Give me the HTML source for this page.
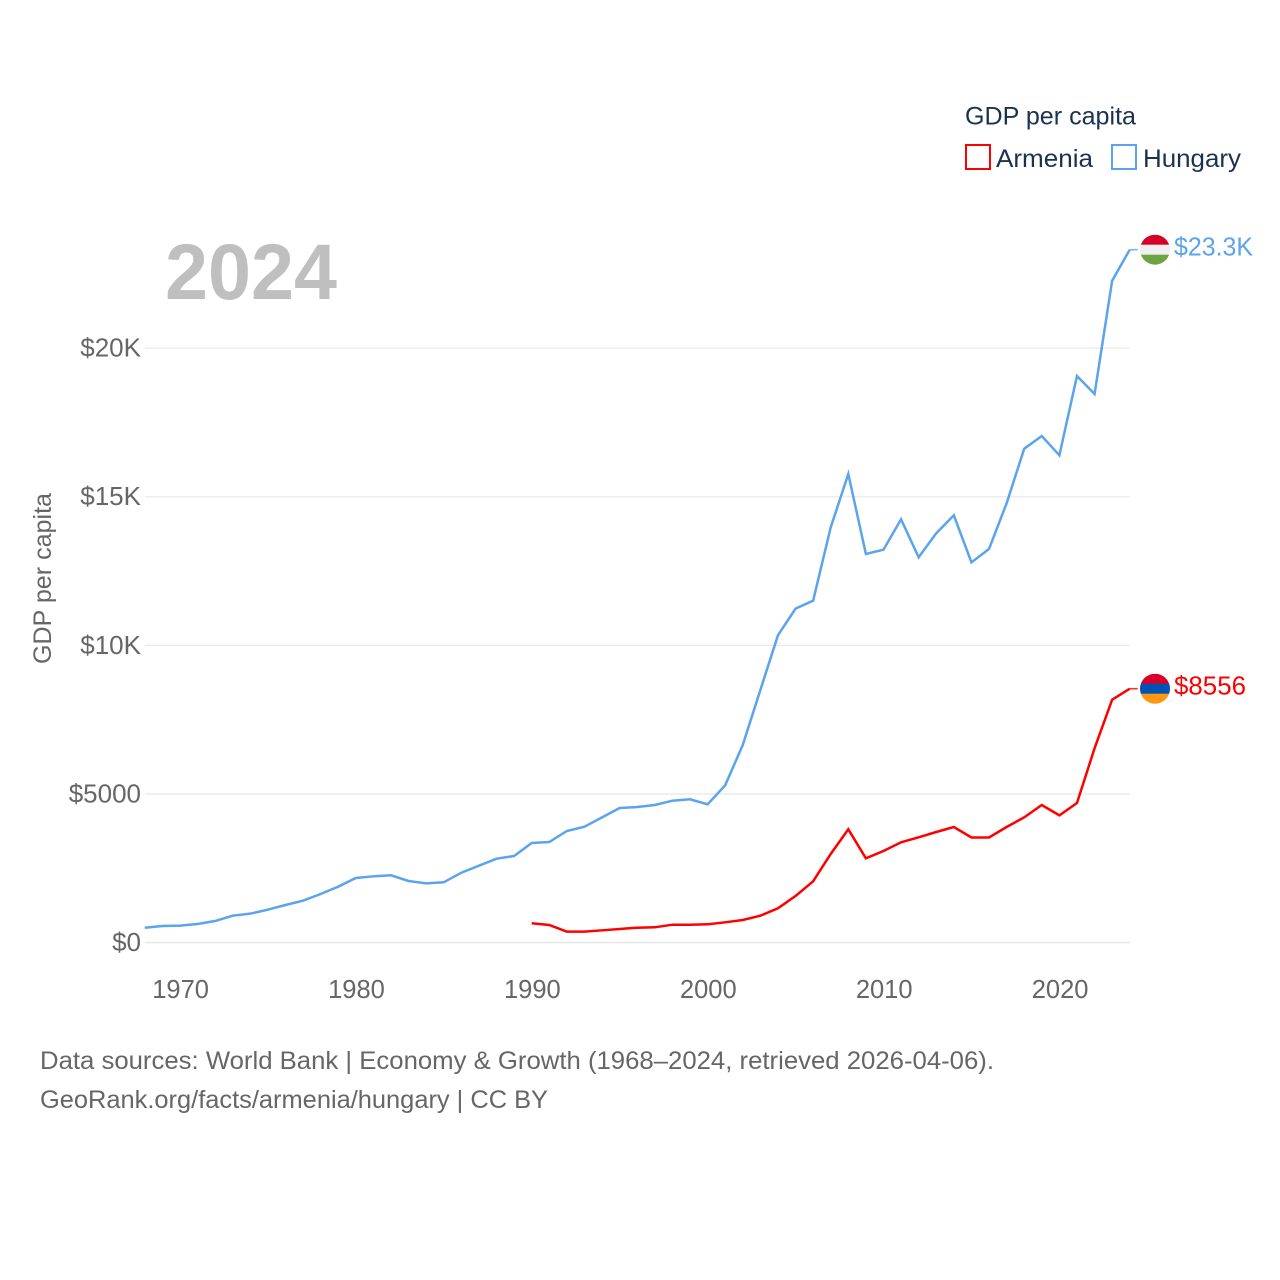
<!DOCTYPE html>
<html lang="en">
<head>
<meta charset="utf-8">
<title>GDP per capita: Armenia and Hungary</title>
<style>
html,body{margin:0;padding:0;background:#fff;}
svg{display:block;}
text{font-family:"Liberation Sans",sans-serif;}
</style>
</head>
<body>
<svg id="chart" xmlns="http://www.w3.org/2000/svg" width="1280" height="1280" viewBox="0 0 1280 1280">
  <rect width="1280" height="1280" fill="#ffffff"/>
  <g id="grid"></g>
  <g id="yticks"></g>
  <g id="xticks"></g>
  <text x="165" y="299" font-size="79" font-weight="700" fill="#bfbfbf" textLength="172" lengthAdjust="spacingAndGlyphs">2024</text>
  <text transform="translate(51,664) rotate(-90)" font-size="25" fill="#666666" textLength="171" lengthAdjust="spacingAndGlyphs">GDP per capita</text>
  <g id="series"></g>
  <g id="flags"></g>
  <g>
    <text x="965" y="124.5" font-size="25" fill="#1a3150" textLength="171" lengthAdjust="spacingAndGlyphs">GDP per capita</text>
    <rect x="966" y="145" width="24" height="24" fill="none" stroke="#ff0000" stroke-width="2"/>
    <text x="996" y="167" font-size="25" fill="#1a3150" textLength="97" lengthAdjust="spacingAndGlyphs">Armenia</text>
    <rect x="1112" y="145" width="24" height="24" fill="none" stroke="#5ba4ec" stroke-width="2"/>
    <text x="1143" y="167" font-size="25" fill="#1a3150" textLength="98" lengthAdjust="spacingAndGlyphs">Hungary</text>
  </g>
  <text x="40" y="1069" font-size="25" fill="#666666" textLength="954" lengthAdjust="spacingAndGlyphs">Data sources: World Bank | Economy &amp; Growth (1968–2024, retrieved 2026-04-06).</text>
  <text x="40" y="1108" font-size="25" fill="#666666" textLength="508" lengthAdjust="spacingAndGlyphs">GeoRank.org/facts/armenia/hungary | CC BY</text>
</svg>
<script>
const NS = 'http://www.w3.org/2000/svg';

const firstYear = 1968;
const lastYear = 2024;
const armeniaFirstYear = 1990;

const hungaryValues = [512,572,583,640,740,919,987,1120,1279,1424,1649,1895,2187,2244,2278,2086,2008,2042,2365,2601,2837,2927,3365,3398,3769,3914,4228,4542,4576,4643,4788,4835,4667,5306,6662,8513,10353,11250,11518,13986,15780,13089,13234,14256,12978,13785,14391,12809,13257,14795,16632,17060,16410,19078,18472,22284,23328];
const armeniaValues = [663,606,381,381,427,471,515,528,616,616,629,696,774,919,1168,1581,2076,2995,3825,2850,3096,3388,3556,3735,3903,3550,3550,3903,4228,4643,4295,4710,6550,8187,8556];

const yTickValues = [0,5000,10000,15000,20000];
const yTickLabels = ['$0','$5000','$10K','$15K','$20K'];
const xTickValues = [1970,1980,1990,2000,2010,2020];
const hungaryEndLabel = '$23.3K';
const armeniaEndLabel = '$8556';

function xScale(year){ return 144.7 + (year - 1968) * 17.59; }
function yScale(value){ return 943 - value * 0.02972; }

function make(tag, attrs, parent, content){
  const el = document.createElementNS(NS, tag);
  for (const k in attrs) el.setAttribute(k, attrs[k]);
  if (content !== undefined) el.textContent = content;
  parent.appendChild(el);
  return el;
}

const grid = document.getElementById('grid');
const yticks = document.getElementById('yticks');
const xticks = document.getElementById('xticks');
const series = document.getElementById('series');
const flags = document.getElementById('flags');

yTickValues.forEach(function(v, i){
  const y = yScale(v) - 0.4;
  const line = make('line', {x1:145, x2:1130, y1:y, y2:y, stroke:'#e8e8e8', 'stroke-width': v === 0 ? 1.6 : 1.2}, grid);
  
  
  const label = make('text', {x:141, y:yScale(v)+8, 'text-anchor':'end', 'font-size':26, fill:'#666666'}, yticks, yTickLabels[i]);
  
  
});

xTickValues.forEach(function(v){
  const label = make('text', {x:xScale(v) + 0.7, y:998, 'text-anchor':'middle', 'font-size':25.5, fill:'#666666'}, xticks, String(v));
  
  
});

function pathFor(values, startYear){
  return values.map(function(v, i){
    return (i ? 'L' : 'M') + xScale(startYear + i).toFixed(2) + ' ' + yScale(v).toFixed(2);
  }).join(' ');
}

const hungaryLine = make('path', {d:pathFor(hungaryValues, firstYear), fill:'none', stroke:'#5ba4ec', 'stroke-width':2.5, 'stroke-linejoin':'miter'}, series);



const armeniaLine = make('path', {d:pathFor(armeniaValues, armeniaFirstYear), fill:'none', stroke:'#ff0000', 'stroke-width':2.5, 'stroke-linejoin':'miter'}, series);



function drawEnd(value, color, stripes, text, textWidth, clipId){
  const y = yScale(value);
  const xEnd = xScale(lastYear);
  const stub = make('line', {x1:xEnd, x2:xEnd + 8, y1:y, y2:y, stroke:color, 'stroke-width':1.6, opacity:0.8}, flags);
  
  
  const cx = 1155, r = 15;
  const clip = make('clipPath', {id:clipId}, flags);
  make('circle', {cx:cx, cy:y, r:r}, clip);
  const flag = make('g', {'clip-path':'url(#' + clipId + ')'}, flags);
  
  
  stripes.forEach(function(c, i){
    make('rect', {x:cx - r, y:y - r + i * 10, width:r * 2, height:10.3, fill:c}, flag);
  });
  const label = make('text', {x:1174, y:y + 5.8, 'font-size':25.5, fill:color, textLength:textWidth, lengthAdjust:'spacingAndGlyphs'}, flags, text);
  
  
}

drawEnd(hungaryValues[hungaryValues.length - 1], '#5ba4ec', ['#d80027','#f0f0f0','#6da544'], hungaryEndLabel, 79, 'clip-hungary');
drawEnd(armeniaValues[armeniaValues.length - 1], '#ff0000', ['#d80027','#0052b4','#ff9811'], armeniaEndLabel, 72, 'clip-armenia');
</script>
</body>
</html>
